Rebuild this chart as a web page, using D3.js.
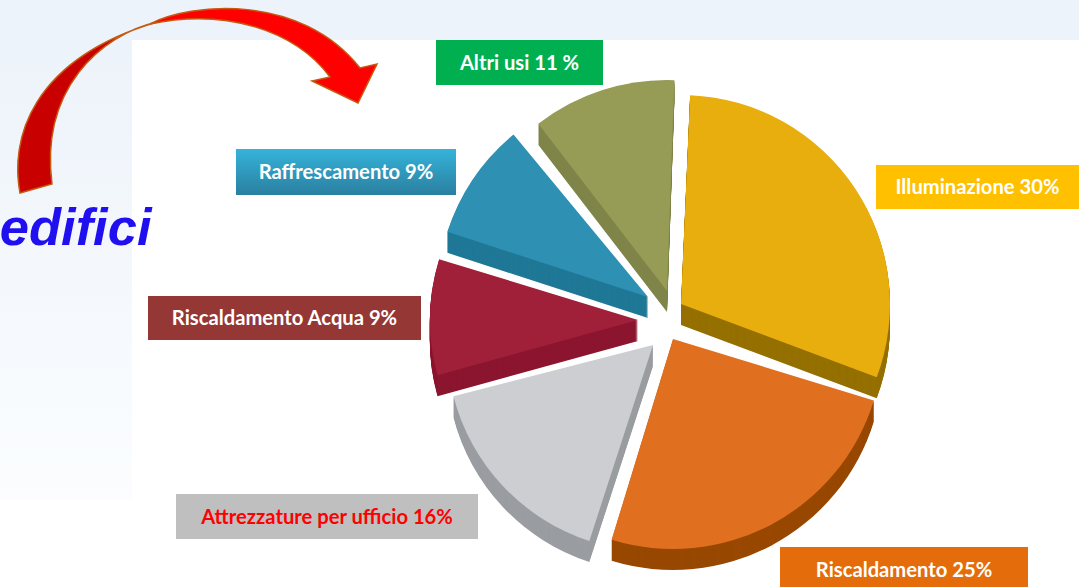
<!DOCTYPE html>
<html>
<head>
<meta charset="utf-8">
<script src="https://cdn.jsdelivr.net/npm/d3@7"></script>
<style>
  html, body { margin: 0; padding: 0; background: #fff; overflow: hidden; }
  svg { display: block; }
  .lbl { font-family: Lato, "Open Sans", sans-serif; font-weight: 700; font-size: 20.2px; }
</style>
</head>
<body>
<div id="chart"></div>
<script>
// Dati
const categories = ["Illuminazione", "Riscaldamento", "Attrezzature per ufficio", "Riscaldamento Acqua", "Raffrescamento", "Altri usi"];
const values = [30, 25, 16, 9, 9, 11];
const labels = ["Illuminazione 30%", "Riscaldamento 25%", "Attrezzature per ufficio 16%", "Riscaldamento Acqua 9%", "Raffrescamento 9%", "Altri usi 11 %"];
const topColors = ["#e8ae0e", "#e0701f", "#ccced1", "#a01f39", "#2e90b2", "#969b55"];
const wallColors = ["#957000", "#984800", "#9a9da1", "#8c152f", "#1f7896", "#7f8449"];

const width = 1079, height = 587;
const cx = 660, cy = 322, depth = 21;

// spostamento, raggio e piccola rotazione (gradi) di ogni fetta
const shifts = [[21, -18], [13, 17], [-7, 23], [-22, -2], [-12, -25], [7, -31]];
const radii = [209, 210, 206, 208, 211, 211];
const tilts = [0.5, -3, -2, -3, -2, 0];

// box etichette: x0, y0, x1, y1, sfondo, colore testo
const boxes = [
  [876, 165, 1079, 209, "#ffc000", "#fff"],
  [780, 547, 1028, 593, "#e46c0a", "#fff"],
  [176, 494, 478, 539, "#bfbfbf", "#f00"],
  [148, 296, 421, 340, "#953735", "#fff"],
  [236, 149, 456, 195, "url(#blueBox)", "#fff"],
  [436, 40, 603, 85, "#00b050", "#fff"]
];

const svg = d3.select("#chart").append("svg")
  .attr("width", width).attr("height", height)
  .attr("viewBox", [0, 0, width, height]);

const defs = svg.append("defs");
const lg = defs.append("linearGradient").attr("id", "leftBg")
  .attr("x1", 0).attr("y1", 0).attr("x2", 0).attr("y2", 1);
lg.append("stop").attr("offset", 0).attr("stop-color", "#edf3fa");
lg.append("stop").attr("offset", 1).attr("stop-color", "#fbfdff");
const bb = defs.append("linearGradient").attr("id", "blueBox")
  .attr("x1", 0).attr("y1", 0).attr("x2", 0).attr("y2", 1);
bb.append("stop").attr("offset", 0).attr("stop-color", "#35b3da");
bb.append("stop").attr("offset", 1).attr("stop-color", "#2a7fa0");

// sfondo
svg.append("rect").attr("width", width).attr("height", 40).attr("fill", "#edf3fa");
svg.append("rect").attr("y", 40).attr("width", 132).attr("height", 460).attr("fill", "url(#leftBg)");

// torta
const pie = d3.pie().sort(null).startAngle(2 * Math.PI / 180).endAngle(362 * Math.PI / 180);
const arcs = pie(values);
const arc = d3.arc().innerRadius(0);

const order = [5, 4, 0, 3, 2, 1]; // da dietro a davanti
order.forEach(i => {
  const d = arcs[i];
  const t = tilts[i] * Math.PI / 180;
  const path = arc({ startAngle: d.startAngle + t, endAngle: d.endAngle + t, outerRadius: radii[i] });
  const g = svg.append("g")
    .attr("class", "slice")
    .attr("transform", `translate(${cx + shifts[i][0]},${cy + shifts[i][1]})`);
  // spessore: copie traslate verso il basso
  g.selectAll("path.wall")
    .data(d3.range(depth, 0, -1))
    .join("path")
    .attr("class", "wall")
    .attr("d", path)
    .attr("transform", k => `translate(0,${k})`)
    .attr("fill", wallColors[i]);
  g.append("path")
    .attr("d", path)
    .attr("fill", topColors[i])
    .append("title").text(`${categories[i]}: ${values[i]}%`);
});

// etichette
const lab = svg.selectAll("g.lbl-box")
  .data(labels)
  .join("g")
  .attr("class", "lbl-box");
lab.append("rect")
  .attr("x", (d, i) => boxes[i][0])
  .attr("y", (d, i) => boxes[i][1])
  .attr("width", (d, i) => boxes[i][2] - boxes[i][0])
  .attr("height", (d, i) => boxes[i][3] - boxes[i][1])
  .attr("fill", (d, i) => boxes[i][4]);
lab.append("text")
  .attr("class", "lbl")
  .attr("x", (d, i) => (boxes[i][0] + boxes[i][2]) / 2)
  .attr("y", (d, i) => (boxes[i][1] + boxes[i][3]) / 2 + 7)
  .attr("text-anchor", "middle")
  .attr("fill", (d, i) => boxes[i][5])
  .text(d => d);

// freccia curva
svg.append("path")
  .attr("d", "M20,193 C10,140 30,60 157,22 C100,35 40,90 52,184 Z")
  .attr("fill", "#c80000").attr("stroke", "#c55a11").attr("stroke-width", 1.5);
svg.append("path")
  .attr("d", "M150,24 C190,3 300,-8 360,68 L377,64 L358,103 L312,81 L330,77 C295,30 225,8 150,24 Z")
  .attr("fill", "#ff0000").attr("stroke", "#c55a11").attr("stroke-width", 1.5);

svg.append("text")
  .attr("x", 151.5).attr("y", 245)
  .attr("text-anchor", "end")
  .attr("font-family", "'Liberation Sans', Arial, sans-serif")
  .attr("font-weight", 700).attr("font-style", "italic")
  .attr("font-size", 52.5)
  .attr("fill", "#2010f0")
  .text("edifici");
</script>
</body>
</html>
